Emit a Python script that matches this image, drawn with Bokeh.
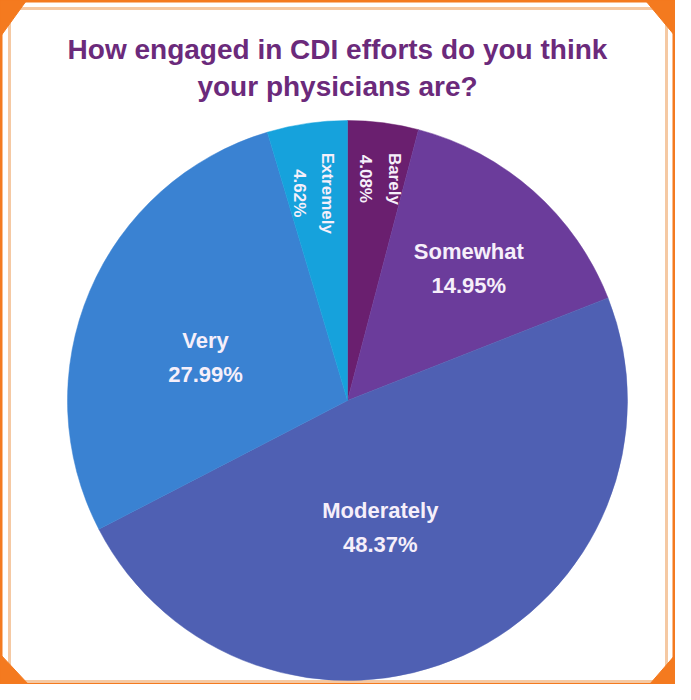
import math
from bokeh.plotting import figure
from bokeh.models import Range1d
from bokeh.core.properties import value
from bokeh.embed import file_html
from bokeh.resources import INLINE

# ---- data ----
categories = ["Barely", "Somewhat", "Moderately", "Very", "Extremely"]
percents = [4.08, 14.95, 48.37, 27.99, 4.62]
colors = ["#6a1f6f", "#6b3c9b", "#4f60b3", "#3a82d2", "#16a2dc"]
title_lines = ["How engaged in CDI efforts do you think", "your physicians are?"]

# ---- layout (styles/positions) ----
W, H = 675, 684
CX, CY, R = 347, 284, 280
label_r = [0.80, 0.64, 0.47, 0.53, 0.75]
label_nudge_deg = [1, 1, 10, -6, -1]
rotated = [True, False, False, False, True]
FONT = value("Liberation Sans")
ORANGE = "#f47a1f"
PEACH = "#f5c9a3"

p = figure(width=W, height=H, output_backend="svg", toolbar_location=None,
           x_range=Range1d(0, W), y_range=Range1d(0, H), min_border=0)
p.axis.visible = False
p.grid.visible = False
p.outline_line_color = ORANGE
p.outline_line_width = 4
p.background_fill_color = "white"
p.border_fill_color = "white"

# frame decoration
p.quad(left=[9], right=[666], bottom=[3], top=[676], fill_alpha=0,
       line_color=PEACH, line_width=3)
p.patches(xs=[[0, 26, 0], [W, W - 30, W], [0, 0, 28], [W, W, W - 26]],
          ys=[[H, H, H - 36], [H, H, H - 36], [0, 30, 0], [0, 30, 0]],
          fill_color=ORANGE, line_color=ORANGE)

# wedges
total = sum(percents)
cum = 0.0
starts, ends, mids = [], [], []
for v in percents:
    a0 = math.pi / 2 - 2 * math.pi * cum / total
    cum += v
    a1 = math.pi / 2 - 2 * math.pi * cum / total
    starts.append(a0)
    ends.append(a1)
    mids.append((a0 + a1) / 2)

p.wedge(x=CX, y=CY, radius=R, start_angle=starts, end_angle=ends,
        direction="clock", fill_color=colors, line_color=colors, line_width=0.5)

# labels
for i, (cat, v) in enumerate(zip(categories, percents)):
    ang = mids[i] - math.radians(label_nudge_deg[i])
    lx = CX + label_r[i] * R * math.cos(ang)
    ly = CY + label_r[i] * R * math.sin(ang)
    pct = f"{v:.2f}%"
    if rotated[i]:
        p.text(x=[lx], y=[ly], text=[cat + "\n" + pct], angle=-math.pi / 2,
               text_align="center", text_baseline="middle",
               text_font=FONT, text_font_style="bold", text_font_size="17px",
               text_color="#f6effa", text_line_height=1.5)
    else:
        p.text(x=[lx], y=[ly], text=[cat], y_offset=-17,
               text_align="center", text_baseline="middle",
               text_font=FONT, text_font_style="bold", text_font_size="22px",
               text_color="#f6effa")
        p.text(x=[lx], y=[ly], text=[pct], y_offset=17,
               text_align="center", text_baseline="middle",
               text_font=FONT, text_font_style="bold", text_font_size="22px",
               text_color="#f6effa")

# title
p.text(x=[337, 337], y=[635, 598], text=title_lines,
       text_align="center", text_baseline="middle",
       text_font=FONT, text_font_style="bold", text_font_size="28px",
       text_color="#6b2a7b")

open("out.html", "w").write(file_html(p, INLINE))
